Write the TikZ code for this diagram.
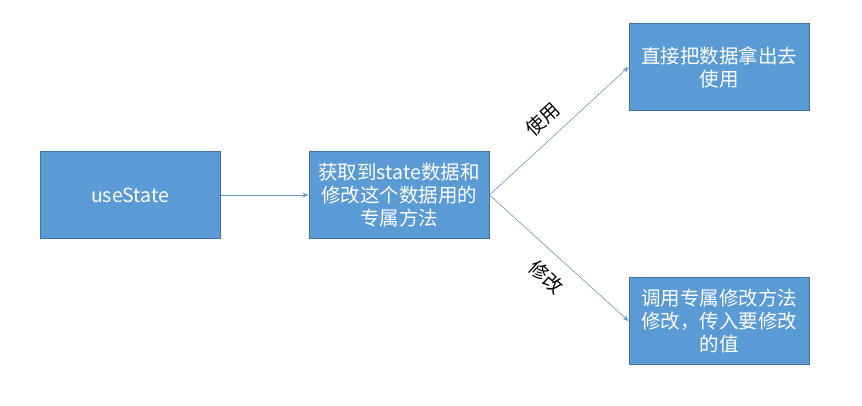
\documentclass[tikz,border=0pt]{standalone}
\usepackage{fontspec}
\setmainfont{Noto Sans CJK SC}
\usepackage{tikz}
\usetikzlibrary{arrows.meta, positioning}
\definecolor{boxblue}{RGB}{91, 155, 213}
\definecolor{boxedge}{RGB}{65, 113, 156}
\definecolor{linkblue}{RGB}{110, 150, 200}

\begin{document}
\begin{tikzpicture}[x=1pt, y=1pt,
                bb/.style={draw=boxedge, line width=1pt, fill=boxblue,
                           minimum width=180pt, minimum height=87pt,
                           inner sep=2pt, align=center, text=white,
                           font=\fontsize{19.5}{23}\selectfont},
                link/.style={-{Stealth[length=6pt, width=5pt]}, linkblue, line width=0.6pt},
                tag/.style={font=\fontsize{19}{22}\selectfont, text=black, sloped}]
                \useasboundingbox (0,0) rectangle (862,-405);
                \node[bb] (hook) at (130,-195) {useState};
                \node[bb, right=88pt of hook] (pair)
                      {获取到state数据和\\修改这个数据用的\\专属方法};
                \node[bb, above right=40pt and 139pt of pair] (read)
                      {直接把数据拿出去\\使用};
                \node[bb, below right=38pt and 139pt of pair] (write)
                      {调用专属修改方法\\修改，传入要修改\\的值};

                \draw[link] (hook) -- (pair);
                \draw[link] (pair.east) -- node[tag, above=7pt, pos=0.48] {使用} (read.west);
                \draw[link] (pair.east) -- node[tag, below=10pt, pos=0.52] {修改} (write.west);
            \end{tikzpicture}
\end{document}
